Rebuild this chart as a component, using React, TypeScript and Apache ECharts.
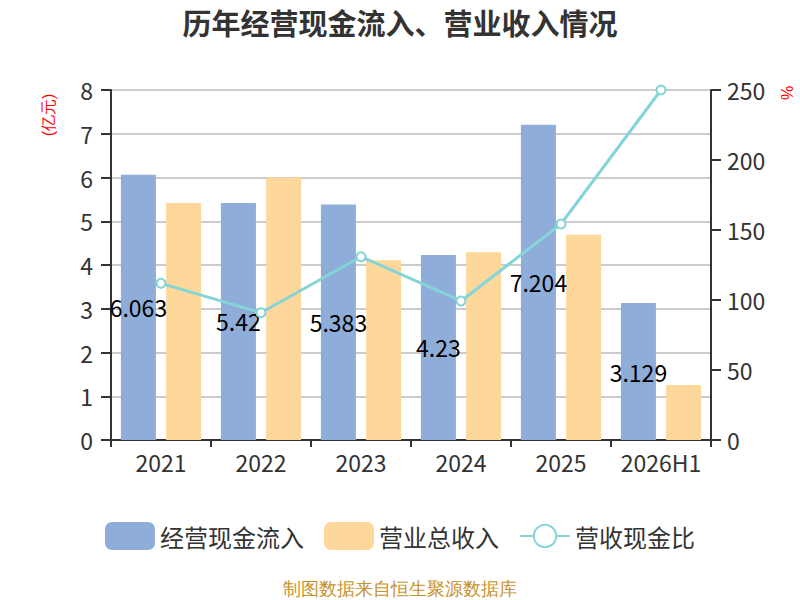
import React, { useEffect, useRef } from 'react';
import * as echarts from 'echarts';

const categories = ['2021', '2022', '2023', '2024', '2025', '2026H1'];
const cashInflow = [6.063, 5.42, 5.383, 4.23, 7.204, 3.129];
const revenue = [5.42, 6.0, 4.11, 4.29, 4.69, 1.257];
const ratio = [111.9, 90.9, 130.9, 99.3, 154.3, 250];

const App: React.FC = () => {
  const chartRef = useRef<HTMLDivElement>(null);

  useEffect(() => {
    document.body.style.margin = '0';
    if (!chartRef.current) return;
    const myChart = echarts.init(chartRef.current, null, { renderer: 'svg' });
    const axisLabel = { fontSize: 23, color: '#333' };
    const option = {
      animation: false,
      textStyle: { fontFamily: 'Noto Sans CJK SC' },
      title: {
        text: '历年经营现金流入、营业收入情况',
        left: 'center',
        top: 2,
        textStyle: { fontSize: 29, fontWeight: 'bold', color: '#333' }
      },
      grid: { left: 111, right: 89, top: 90, bottom: 160 },
      legend: {
        bottom: 50,
        left: 'center',
        padding: 0,
        itemWidth: 50,
        itemHeight: 28,
        itemGap: 20,
        textStyle: { fontSize: 24, color: '#333' },
        data: [
          { name: '经营现金流入', icon: 'roundRect' },
          { name: '营业总收入', icon: 'roundRect' },
          { name: '营收现金比' }
        ]
      },
      graphic: [
        {
          type: 'text',
          x: 48,
          y: 115,
          rotation: Math.PI / 2,
          style: { text: '(亿元)', fill: '#f00', fontSize: 16, align: 'center', verticalAlign: 'middle' }
        },
        {
          type: 'text',
          x: 787,
          y: 93,
          rotation: Math.PI / 2,
          style: { text: '%', fill: '#f00', fontSize: 16, align: 'center', verticalAlign: 'middle' }
        },
        {
          type: 'text',
          left: 'center',
          bottom: 2,
          style: { text: '制图数据来自恒生聚源数据库', fill: '#c8922a', fontSize: 18 }
        }
      ],
      xAxis: {
        type: 'category',
        data: categories,
        axisLine: { lineStyle: { color: '#333', width: 2 } },
        axisTick: { show: true, length: 7, lineStyle: { width: 2 } },
        axisLabel: { ...axisLabel, margin: 10, interval: 0 }
      },
      yAxis: [
        {
          type: 'value',
          min: 0,
          max: 8,
          interval: 1,
          axisLine: { show: true, lineStyle: { color: '#333', width: 2 } },
          axisTick: { show: true, length: 10, lineStyle: { width: 2 } },
          axisLabel: { ...axisLabel, margin: 18 },
          splitLine: { lineStyle: { color: '#ccc', width: 2 } }
        },
        {
          type: 'value',
          min: 0,
          max: 250,
          interval: 50,
          axisLine: { show: true, lineStyle: { color: '#333', width: 2 } },
          axisTick: { show: true, length: 10, lineStyle: { width: 2 } },
          axisLabel: { ...axisLabel, margin: 16 },
          splitLine: { show: false }
        }
      ],
      series: [
        {
          name: '经营现金流入',
          type: 'bar',
          data: cashInflow,
          barWidth: 35,
          barGap: '29%',
          itemStyle: { color: '#8eadd9' },
          label: { show: true, position: 'inside', fontSize: 23, color: '#000' }
        },
        {
          name: '营业总收入',
          type: 'bar',
          data: revenue,
          barWidth: 35,
          barGap: '29%',
          itemStyle: { color: '#fdd89a' }
        },
        {
          name: '营收现金比',
          type: 'line',
          yAxisIndex: 1,
          data: ratio,
          symbol: 'emptyCircle',
          symbolSize: 9,
          lineStyle: { color: '#84d4d8', width: 3 },
          itemStyle: { color: '#84d4d8', borderWidth: 2 },
          z: 5
        }
      ]
    };
    myChart.setOption(option);
    const resizeHandler = () => myChart.resize();
    window.addEventListener('resize', resizeHandler);
    return () => {
      window.removeEventListener('resize', resizeHandler);
      myChart.dispose();
    };
  }, []);

  return <div ref={chartRef} style={{ width: '800px', height: '600px' }} />;
};

export default App;
